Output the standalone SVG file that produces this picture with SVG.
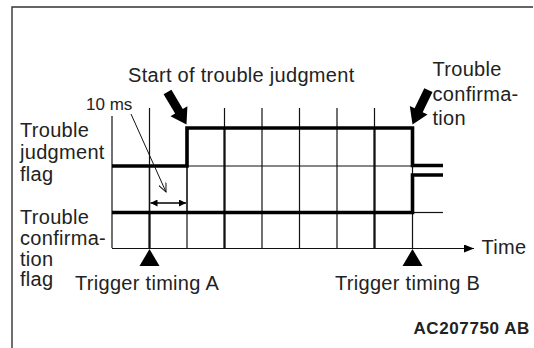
<svg xmlns="http://www.w3.org/2000/svg" width="534" height="348" viewBox="0 0 534 348">
<defs>
<style>
.t{font-family:"Liberation Sans",Arial,sans-serif;font-size:20px;fill:#222;letter-spacing:0.3px}
.s{font-family:"Liberation Sans",Arial,sans-serif;font-size:17px;fill:#222}
.b{font-family:"Liberation Sans",Arial,sans-serif;font-size:17px;font-weight:bold;fill:#222;letter-spacing:0.6px}
.thin{stroke:#111;stroke-width:1.2;fill:none}
.mid{stroke:#111;stroke-width:1.6;fill:none}
.thk{stroke:#111;stroke-width:2.3;fill:none}
.wave{stroke:#000;stroke-width:3.6;fill:none;stroke-linejoin:miter}
</style>
<marker id="open" viewBox="0 0 10 8" refX="9" refY="4" markerWidth="10" markerHeight="8" markerUnits="userSpaceOnUse" orient="auto">
<path d="M0,0 L9,4 L0,8" fill="none" stroke="#111" stroke-width="1"/>
</marker>
<marker id="fill" viewBox="0 0 8 8" refX="8" refY="4" markerWidth="8" markerHeight="7" markerUnits="userSpaceOnUse" orient="auto-start-reverse">
<path d="M0,0 L8,4 L0,8 Z" fill="#000"/>
</marker>
<marker id="axis" viewBox="0 0 10 8" refX="10" refY="4" markerWidth="10" markerHeight="8" markerUnits="userSpaceOnUse" orient="auto">
<path d="M0,0 L10,4 L0,8 Z" fill="#000"/>
</marker>
</defs>
<rect width="534" height="348" fill="#fff"/>
<g id="frame">
<path d="M12,348 V7 H533" fill="none" stroke="#333" stroke-width="1.4"/>
</g>
<g id="grid">
<line class="thin" x1="112" y1="116" x2="112" y2="248"/>
<line class="thin" x1="149.5" y1="108" x2="149.5" y2="166"/>
<line class="mid" x1="149.5" y1="166" x2="149.5" y2="212.5"/>
<line class="thk" x1="149.5" y1="212.5" x2="149.5" y2="248"/>
<line class="mid" x1="187" y1="166" x2="187" y2="212.5"/>
<line class="thin" x1="187" y1="212.5" x2="187" y2="248"/>
<line class="thin" x1="224.5" y1="108" x2="224.5" y2="128"/>
<line class="thk" x1="224.5" y1="128" x2="224.5" y2="248"/>
<line class="thin" x1="262" y1="108" x2="262" y2="248"/>
<line class="thin" x1="299.5" y1="108" x2="299.5" y2="248"/>
<line class="thin" x1="337" y1="108" x2="337" y2="248"/>
<line class="thin" x1="374.5" y1="108" x2="374.5" y2="128"/>
<line class="thk" x1="374.5" y1="128" x2="374.5" y2="248"/>
<line class="thin" x1="412.5" y1="128" x2="412.5" y2="248"/>
<line class="thin" x1="187" y1="166" x2="412.5" y2="166"/>
<line class="thin" x1="412.5" y1="212.5" x2="443" y2="212.5"/>
<line class="thin" x1="112" y1="248.5" x2="474" y2="248.5" marker-end="url(#axis)"/>
</g>
<g id="waveforms">
<path class="wave" d="M112,166 H187 V128 H412.5 V165.5 H443"/>
<path class="wave" d="M112,212.5 H412.5 V175 H443"/>
</g>
<g id="connectors">
<line x1="131" y1="114" x2="166" y2="192" stroke="#111" stroke-width="1" marker-end="url(#open)"/>
<line x1="150.5" y1="203" x2="186" y2="203" stroke="#000" stroke-width="1.6" marker-start="url(#fill)" marker-end="url(#fill)"/>
<polygon points="186.5,124.5 170.5,116.2 175.1,113.5 163.6,94.3 171.4,89.7 182.8,109 187.4,106.2" fill="#000"/>
<polygon points="412.5,124.5 427.5,114.5 422.7,112.2 432.5,92.1 424.3,88.2 414.6,108.3 409.8,106" fill="#000"/>
<polygon points="149.5,249 139.5,266 159.5,266" fill="#000"/>
<polygon points="412.5,249 402.5,266 422.5,266" fill="#000"/>
</g>
<g id="labels">
<text class="t" x="128" y="82">Start of trouble judgment</text>
<text class="t" x="432.5" y="76">Trouble</text>
<text class="t" x="432.5" y="100.5">confirma-</text>
<text class="t" x="432.5" y="125">tion</text>
<text class="s" x="86" y="110">10 ms</text>
<text class="t" x="20" y="137">Trouble</text>
<text class="t" x="20" y="159">judgment</text>
<text class="t" x="20" y="181">flag</text>
<text class="t" x="20" y="224">Trouble</text>
<text class="t" x="20" y="245">confirma-</text>
<text class="t" x="20" y="265.5">tion</text>
<text class="t" x="20" y="286">flag</text>
<text class="t" x="481.5" y="254">Time</text>
<text class="t" x="75" y="290">Trigger timing A</text>
<text class="t" x="335" y="290">Trigger timing B</text>
<text class="b" x="530" y="334" text-anchor="end">AC207750 AB</text>
</g>
</svg>
